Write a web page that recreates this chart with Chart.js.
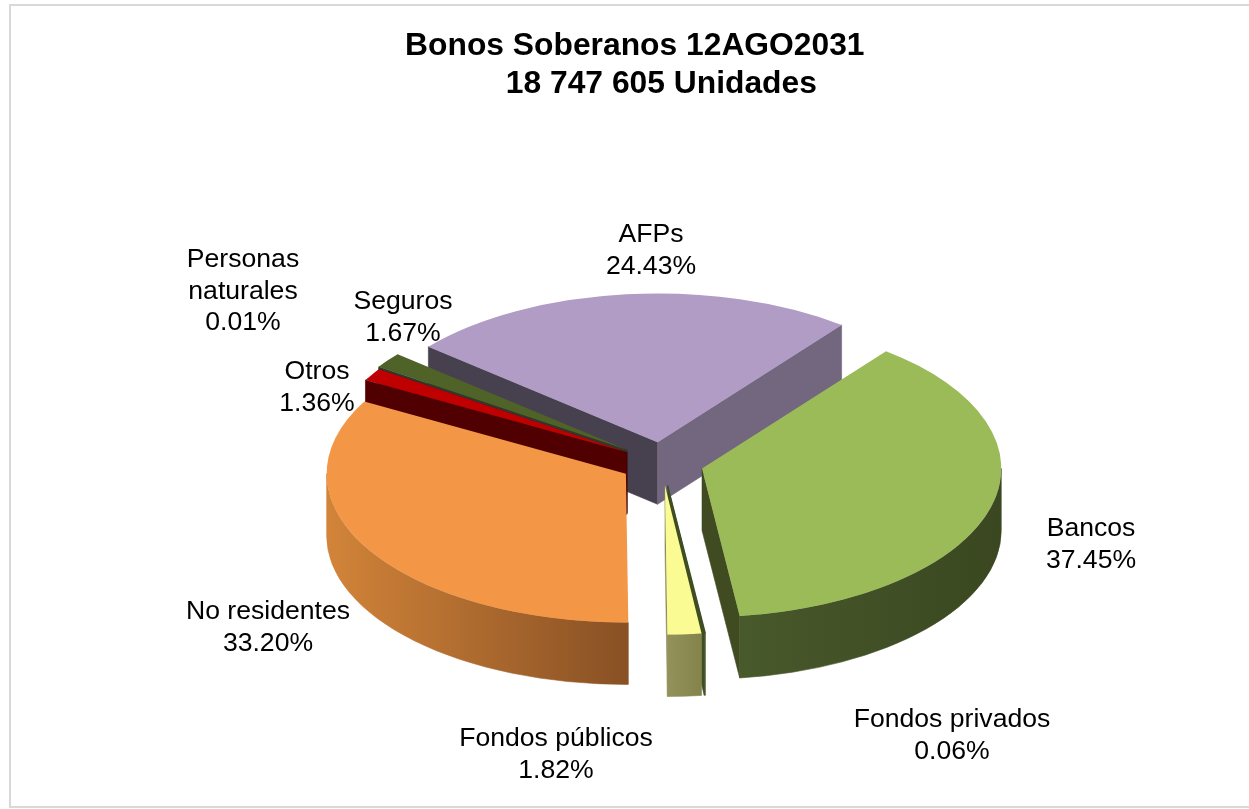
<!DOCTYPE html>
<html>
<head>
<meta charset="utf-8">
<script src="https://cdn.jsdelivr.net/npm/chart.js@4/dist/chart.umd.min.js"></script>
<style>
html,body{margin:0;padding:0;background:#fff;overflow:hidden;width:1249px;height:809px}
#wrap{position:absolute;left:0;top:0;width:1249px;height:809px}
#frame{position:absolute;left:9px;top:4px;width:1300px;height:800px;border:2px solid #d9d9d9}
</style>
</head>
<body>
<div id="frame"></div>
<div id="wrap"><canvas id="c"></canvas></div>
<script>
const titleLines = ['  Bonos Soberanos 12AGO2031', '        18 747 605 Unidades'];
const categories = ['AFPs', 'Bancos', 'Fondos privados', 'Fondos públicos', 'No residentes', 'Otros', 'Personas naturales', 'Seguros'];
const shares = [24.43, 37.45, 0.06, 1.82, 33.20, 1.36, 0.01, 1.67];
const topColors = ['#b09cc4', '#9bbb59', '#3f4d23', '#fbfb94', '#f39645', '#c00000', '#3a3a3a', '#4f6228'];
const borderWidths = [0, 0, 1.2, 0, 0, 0, 0.8, 0];
const startFaceColors = ['#46404f', '#404b22', '#3f4d23', '#8d8c55', '#8a5326', '#500000', '#2a2a2a', '#2f3a18'];
const endFaceColors = ['#72677f', '#404b22', '#3f4d23', '#8d8c55', '#8a5326', '#500000', '#2a2a2a', '#2f3a18'];
const wallLeftColors = ['#72677f', '#48592b', '#3f4d23', '#93925a', '#d28439', '#500000', '#2a2a2a', '#2f3a18'];
const wallRightColors = ['#72677f', '#3a4720', '#3f4d23', '#84834b', '#885024', '#500000', '#2a2a2a', '#2f3a18'];
const explosion = [42, 41.5, 46, 46, 42, 41, 42, 44];
const labelAnchors = [[651, 235], [1091, 529], [952, 720], [556, 739], [268, 612], [317, 372], [243, 260], [403, 302]];
const labelWraps = { 'Personas naturales': ['Personas', 'naturales'] };

const pie3d = {
  id: 'pie3d',
  beforeDatasetsDraw(chart, args, o) {
    const ctx = chart.ctx;
    const arcs = chart.getDatasetMeta(0).data;
    const order = arcs.map((a, i) => i).sort((p, q) =>
      Math.sin((arcs[p].startAngle + arcs[p].endAngle) / 2) - Math.sin((arcs[q].startAngle + arcs[q].endAngle) / 2));
    const origin = i => {
      const mid = (arcs[i].startAngle + arcs[i].endAngle) / 2;
      return [o.cx + Math.cos(mid) * explosion[i], o.cy + Math.sin(mid) * explosion[i] * o.tilt];
    };
    const paint = (style) => { ctx.fillStyle = style; ctx.strokeStyle = style; ctx.lineWidth = 0.6; ctx.fill(); ctx.stroke(); };
    const face = (x, y, R, ang, style) => {
      const ex = x + Math.cos(ang) * R, ey = y + Math.sin(ang) * R * o.tilt;
      ctx.beginPath();
      ctx.moveTo(x, y); ctx.lineTo(ex, ey); ctx.lineTo(ex, ey + o.depth); ctx.lineTo(x, y + o.depth);
      ctx.closePath();
      paint(style);
    };
    order.forEach(i => {
      const a = arcs[i], R = a.outerRadius, [x, y] = origin(i);
      if (Math.cos(a.startAngle) < 0) face(x, y, R, a.startAngle, startFaceColors[i]);
      if (Math.cos(a.endAngle) > 0) face(x, y, R, a.endAngle, endFaceColors[i]);
      const from = Math.max(a.startAngle, 0), to = Math.min(a.endAngle, Math.PI);
      if (to > from) {
        const g = ctx.createLinearGradient(x + Math.cos(to) * R, 0, x + Math.cos(from) * R, 0);
        g.addColorStop(0, wallLeftColors[i]);
        g.addColorStop(1, wallRightColors[i]);
        ctx.beginPath();
        ctx.ellipse(x, y, R, R * o.tilt, 0, from, to);
        ctx.ellipse(x, y + o.depth, R, R * o.tilt, 0, to, from, true);
        ctx.closePath();
        paint(g);
      }
    });
    order.forEach(i => {
      const a = arcs[i], [x, y] = origin(i);
      ctx.save();
      ctx.translate(x, y);
      ctx.scale(1, o.tilt);
      ctx.translate(-a.x, -a.y);
      a.draw(ctx);
      ctx.restore();
    });
    return false;
  },
  afterDraw(chart, args, o) {
    const ctx = chart.ctx;
    ctx.save();
    ctx.fillStyle = '#000';
    ctx.font = o.labelFont;
    ctx.textAlign = 'center';
    ctx.textBaseline = 'middle';
    categories.forEach((name, i) => {
      const lines = (labelWraps[name] || [name]).concat(shares[i].toFixed(2) + '%');
      lines.forEach((t, n) => ctx.fillText(t, labelAnchors[i][0], labelAnchors[i][1] + n * o.labelLeading));
    });
    ctx.restore();
  }
};

new Chart(document.getElementById('c'), {
  type: 'pie',
  data: {
    labels: categories,
    datasets: [{ data: shares, backgroundColor: topColors, borderColor: topColors, borderWidth: borderWidths }]
  },
  plugins: [pie3d],
  options: {
    responsive: true,
    maintainAspectRatio: false,
    animation: false,
    rotation: -50,
    layout: { padding: { left: 3 } },
    plugins: {
      legend: { display: false },
      tooltip: { enabled: false },
      title: {
        display: true,
        text: titleLines,
        color: '#000',
        font: { family: '"Liberation Sans", Arial, sans-serif', size: 31.8, weight: 'bold', lineHeight: 1.2 },
        padding: { top: 27, bottom: 106 }
      },
      pie3d: { cx: 662, cy: 463, tilt: 0.497, depth: 62, labelFont: '26.6px "Liberation Sans", Arial, sans-serif', labelLeading: 31.5 }
    }
  }
});
</script>
</body>
</html>
